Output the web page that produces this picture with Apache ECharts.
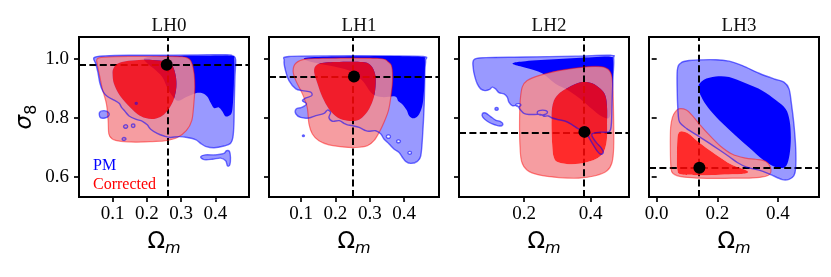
<!DOCTYPE html>
<html><head><meta charset="utf-8">
<script src="https://cdn.jsdelivr.net/npm/echarts@6/dist/echarts.min.js"></script>
<style>html,body{margin:0;padding:0;background:#fff}#c{width:831px;height:277px}</style>
</head><body><div id="c"></div>
<script>
// ---------------- data ----------------
const panelTitles = ['LH0', 'LH1', 'LH2', 'LH3'];
const truthOmegaM = [0.258, 0.254, 0.381, 0.141];
const truthSigma8 = [0.981, 0.941, 0.753, 0.631];
const xTickValues = [[0.1, 0.2, 0.3, 0.4], [0.1, 0.2, 0.3, 0.4], [0.2, 0.4], [0.0, 0.2, 0.4]];
const yTickValues = [0.6, 0.8, 1.0];
const xLimits = [[0.002, 0.498], [0.007, 0.501], [0.004, 0.515], [-0.0254, 0.536]];
const yLimits = [0.532, 1.075];
const legendNames = ['PM', 'Corrected'];

// LH0 contours (Omega_m, sigma_8)
const LH0_PM_OUTER = [[0.046,1.005],[0.080,1.011],[0.148,1.013],[0.245,1.013],[0.342,1.014],[0.430,1.015],[0.451,1.011],[0.459,0.998],[0.457,0.939],[0.455,0.848],[0.454,0.780],[0.451,0.734],[0.444,0.714],[0.425,0.705],[0.396,0.699],[0.371,0.704],[0.357,0.714],[0.342,0.727],[0.318,0.734],[0.294,0.737],[0.269,0.734],[0.250,0.739],[0.230,0.748],[0.211,0.762],[0.201,0.777],[0.187,0.789],[0.167,0.796],[0.148,0.807],[0.136,0.823],[0.126,0.836],[0.119,0.850],[0.104,0.861],[0.085,0.873],[0.072,0.890],[0.063,0.918],[0.057,0.956],[0.051,0.984]];
const LH0_PM_ISLANDS = [
  [[0.062,0.819],[0.075,0.825],[0.088,0.819],[0.089,0.808],[0.078,0.800],[0.064,0.802]],
  [[0.132,0.771],[0.135,0.776],[0.141,0.777],[0.144,0.771],[0.141,0.766],[0.135,0.766]],
  [[0.155,0.774],[0.157,0.779],[0.163,0.779],[0.165,0.774],[0.163,0.769],[0.157,0.769]],
  [[0.128,0.729],[0.130,0.733],[0.136,0.733],[0.139,0.729],[0.136,0.725],[0.130,0.725]],
  [[0.166,0.850],[0.169,0.853],[0.172,0.850],[0.169,0.847]],
  [[0.357,0.668],[0.371,0.675],[0.400,0.675],[0.425,0.680],[0.432,0.689],[0.441,0.687],[0.444,0.666],[0.442,0.641],[0.435,0.638],[0.430,0.655],[0.415,0.664],[0.391,0.660],[0.367,0.659]]
];
const LH0_PM_HOLES = [];
const LH0_PM_INNER = [[0.196,1.005],[0.274,1.010],[0.371,1.011],[0.444,1.011],[0.455,1.000],[0.454,0.916],[0.451,0.848],[0.447,0.816],[0.437,0.806],[0.428,0.807],[0.420,0.823],[0.410,0.836],[0.396,0.834],[0.386,0.852],[0.376,0.873],[0.362,0.884],[0.342,0.884],[0.315,0.871],[0.289,0.859],[0.264,0.893],[0.245,0.939],[0.221,0.967],[0.201,0.986]];
const LH0_COR_OUTER = [[0.055,1.001],[0.080,1.007],[0.148,1.009],[0.245,1.009],[0.303,1.008],[0.323,1.001],[0.332,0.984],[0.338,0.950],[0.340,0.905],[0.337,0.848],[0.331,0.791],[0.315,0.757],[0.289,0.734],[0.255,0.723],[0.216,0.720],[0.167,0.718],[0.124,0.721],[0.099,0.729],[0.089,0.746],[0.087,0.791],[0.082,0.848],[0.070,0.899],[0.062,0.944],[0.056,0.978]];
const LH0_COR_INNER = [[0.102,0.967],[0.114,0.984],[0.138,0.993],[0.177,0.997],[0.216,0.997],[0.255,0.992],[0.274,0.978],[0.284,0.944],[0.286,0.905],[0.279,0.865],[0.264,0.831],[0.245,0.808],[0.221,0.797],[0.196,0.800],[0.172,0.814],[0.143,0.846],[0.119,0.880],[0.104,0.916],[0.100,0.948]];

// LH1 contours
const LH1_PM_OUTER = [[0.051,0.995],[0.065,1.009],[0.201,1.011],[0.346,1.011],[0.455,1.009],[0.462,0.995],[0.460,0.961],[0.458,0.848],[0.453,0.734],[0.448,0.672],[0.438,0.653],[0.419,0.646],[0.404,0.653],[0.395,0.666],[0.385,0.683],[0.370,0.695],[0.356,0.712],[0.341,0.729],[0.332,0.746],[0.317,0.757],[0.298,0.755],[0.288,0.757],[0.269,0.768],[0.249,0.774],[0.235,0.777],[0.225,0.782],[0.211,0.791],[0.191,0.789],[0.181,0.802],[0.186,0.819],[0.177,0.827],[0.167,0.816],[0.143,0.808],[0.123,0.800],[0.099,0.802],[0.085,0.814],[0.086,0.831],[0.102,0.836],[0.116,0.848],[0.104,0.859],[0.114,0.868],[0.131,0.876],[0.128,0.888],[0.104,0.893],[0.085,0.899],[0.065,0.927],[0.055,0.961]];
const LH1_PM_ISLANDS = [[[0.104,0.740],[0.107,0.743],[0.110,0.740],[0.107,0.737]]];
const LH1_PM_HOLES = [
  [[0.348,0.737],[0.351,0.742],[0.357,0.742],[0.360,0.737],[0.357,0.732],[0.351,0.732]],
  [[0.378,0.721],[0.380,0.725],[0.386,0.725],[0.389,0.721],[0.386,0.717],[0.380,0.717]],
  [[0.411,0.682],[0.413,0.686],[0.419,0.686],[0.421,0.682],[0.419,0.678],[0.413,0.678]]
];
const LH1_PM_INNER = [[0.114,1.005],[0.201,1.009],[0.298,1.010],[0.395,1.010],[0.455,1.007],[0.460,0.996],[0.459,0.927],[0.455,0.859],[0.448,0.825],[0.438,0.805],[0.426,0.799],[0.414,0.808],[0.407,0.827],[0.395,0.846],[0.383,0.857],[0.373,0.873],[0.336,0.871],[0.307,0.882],[0.278,0.927],[0.240,0.961],[0.181,0.978],[0.123,0.993]];
const LH1_COR_OUTER = [[0.085,0.986],[0.114,1.000],[0.201,1.003],[0.327,1.002],[0.354,0.990],[0.364,0.973],[0.366,0.927],[0.361,0.871],[0.354,0.825],[0.341,0.785],[0.327,0.751],[0.312,0.723],[0.293,0.706],[0.259,0.700],[0.220,0.702],[0.181,0.709],[0.152,0.723],[0.133,0.746],[0.123,0.780],[0.118,0.836],[0.104,0.882],[0.085,0.927],[0.077,0.960]];
const LH1_COR_INNER = [[0.152,0.984],[0.201,0.990],[0.278,0.990],[0.303,0.978],[0.315,0.950],[0.317,0.916],[0.312,0.871],[0.298,0.831],[0.278,0.802],[0.259,0.791],[0.235,0.791],[0.206,0.802],[0.181,0.831],[0.162,0.871],[0.148,0.916],[0.138,0.961]];

// LH2 contours
const LH2_PM_OUTER = [[0.049,0.998],[0.084,1.005],[0.204,1.007],[0.354,1.010],[0.459,1.013],[0.469,1.001],[0.467,0.939],[0.464,0.848],[0.462,0.780],[0.456,0.754],[0.429,0.752],[0.404,0.746],[0.409,0.729],[0.419,0.714],[0.432,0.698],[0.438,0.683],[0.430,0.677],[0.420,0.687],[0.409,0.706],[0.399,0.725],[0.389,0.743],[0.374,0.757],[0.359,0.766],[0.344,0.777],[0.324,0.789],[0.304,0.794],[0.284,0.800],[0.272,0.807],[0.259,0.806],[0.249,0.812],[0.214,0.812],[0.199,0.816],[0.189,0.827],[0.179,0.842],[0.164,0.842],[0.154,0.854],[0.149,0.871],[0.139,0.882],[0.124,0.886],[0.114,0.899],[0.104,0.905],[0.096,0.897],[0.082,0.893],[0.069,0.899],[0.059,0.916],[0.052,0.939],[0.047,0.967]];
const LH2_PM_ISLANDS = [
  [[0.112,0.831],[0.114,0.835],[0.120,0.835],[0.122,0.831],[0.120,0.827],[0.114,0.827]],
  [[0.074,0.814],[0.084,0.817],[0.099,0.805],[0.114,0.793],[0.129,0.788],[0.136,0.779],[0.126,0.773],[0.104,0.780],[0.089,0.789],[0.076,0.802]],
  [[0.239,0.818],[0.245,0.825],[0.262,0.826],[0.270,0.820],[0.262,0.812],[0.245,0.811]]
];
const LH2_PM_HOLES = [[[0.174,0.844],[0.178,0.848],[0.187,0.848],[0.190,0.844],[0.186,0.840],[0.178,0.840]]];
const LH2_PM_INNER = [[0.169,0.988],[0.204,0.993],[0.304,1.000],[0.404,1.006],[0.459,1.008],[0.467,0.995],[0.466,0.916],[0.462,0.848],[0.456,0.802],[0.434,0.805],[0.404,0.831],[0.369,0.865],[0.334,0.893],[0.294,0.916],[0.254,0.952],[0.204,0.971],[0.169,0.982]];
const LH2_COR_OUTER = [[0.194,0.905],[0.209,0.927],[0.244,0.944],[0.304,0.961],[0.364,0.971],[0.414,0.975],[0.444,0.971],[0.459,0.956],[0.466,0.916],[0.469,0.791],[0.469,0.700],[0.464,0.649],[0.449,0.621],[0.414,0.604],[0.364,0.596],[0.304,0.598],[0.244,0.607],[0.209,0.623],[0.192,0.653],[0.187,0.712],[0.186,0.791],[0.188,0.859]];
const LH2_COR_INNER = [[0.286,0.848],[0.304,0.882],[0.344,0.910],[0.374,0.922],[0.404,0.918],[0.429,0.899],[0.444,0.876],[0.449,0.836],[0.449,0.780],[0.449,0.734],[0.444,0.700],[0.434,0.677],[0.414,0.660],[0.384,0.649],[0.344,0.643],[0.304,0.649],[0.289,0.666],[0.284,0.712],[0.282,0.791]];

// LH3 contours
const LH3_PM_OUTER = [[0.068,0.961],[0.079,0.986],[0.107,0.995],[0.195,0.998],[0.239,0.993],[0.283,0.978],[0.338,0.952],[0.387,0.933],[0.420,0.922],[0.437,0.899],[0.445,0.848],[0.453,0.780],[0.459,0.700],[0.459,0.632],[0.453,0.604],[0.437,0.592],[0.415,0.591],[0.374,0.609],[0.338,0.623],[0.297,0.633],[0.266,0.649],[0.242,0.667],[0.211,0.689],[0.176,0.713],[0.140,0.737],[0.099,0.764],[0.076,0.785],[0.071,0.814],[0.068,0.882]];
const LH3_PM_ISLANDS = [];
const LH3_PM_HOLES = [];
const LH3_PM_INNER = [[0.137,0.905],[0.156,0.930],[0.195,0.941],[0.239,0.939],[0.294,0.918],[0.349,0.893],[0.393,0.861],[0.426,0.831],[0.439,0.791],[0.443,0.734],[0.439,0.677],[0.428,0.638],[0.409,0.630],[0.382,0.638],[0.349,0.660],[0.305,0.700],[0.261,0.740],[0.217,0.782],[0.178,0.825],[0.151,0.865]];
const LH3_COR_OUTER = [[0.060,0.819],[0.073,0.831],[0.098,0.827],[0.118,0.808],[0.143,0.777],[0.170,0.746],[0.209,0.706],[0.250,0.677],[0.294,0.664],[0.327,0.660],[0.360,0.653],[0.376,0.632],[0.373,0.609],[0.349,0.600],[0.305,0.596],[0.250,0.596],[0.195,0.595],[0.140,0.596],[0.085,0.600],[0.054,0.612],[0.047,0.632],[0.045,0.700],[0.046,0.768],[0.052,0.802]];
const LH3_COR_INNER = [[0.071,0.746],[0.082,0.755],[0.107,0.746],[0.132,0.724],[0.176,0.690],[0.242,0.645],[0.297,0.622],[0.294,0.612],[0.250,0.609],[0.195,0.607],[0.129,0.606],[0.079,0.609],[0.068,0.626],[0.067,0.677],[0.068,0.723]];

const contourSets = [
  {pmOuter: LH0_PM_OUTER, pmIslands: LH0_PM_ISLANDS, pmHoles: LH0_PM_HOLES, pmInner: LH0_PM_INNER, corOuter: LH0_COR_OUTER, corInner: LH0_COR_INNER},
  {pmOuter: LH1_PM_OUTER, pmIslands: LH1_PM_ISLANDS, pmHoles: LH1_PM_HOLES, pmInner: LH1_PM_INNER, corOuter: LH1_COR_OUTER, corInner: LH1_COR_INNER},
  {pmOuter: LH2_PM_OUTER, pmIslands: LH2_PM_ISLANDS, pmHoles: LH2_PM_HOLES, pmInner: LH2_PM_INNER, corOuter: LH2_COR_OUTER, corInner: LH2_COR_INNER},
  {pmOuter: LH3_PM_OUTER, pmIslands: LH3_PM_ISLANDS, pmHoles: LH3_PM_HOLES, pmInner: LH3_PM_INNER, corOuter: LH3_COR_OUTER, corInner: LH3_COR_INNER}
];

// ---------------- layout / style ----------------
const gridLeft = [79, 269, 459, 649];
const gridTop = 37, gridW = 170, gridH = 160;
const SERIF = 'Liberation Serif';
const MATH = 'DejaVu Sans';

function smoothClosed(px) {
  const n = px.length;
  const f = v => v.toFixed(2);
  let s = 'M' + f(px[0][0]) + ' ' + f(px[0][1]);
  for (let i = 0; i < n; i++) {
    const p0 = px[(i - 1 + n) % n], p1 = px[i], p2 = px[(i + 1) % n], p3 = px[(i + 2) % n];
    const c1 = [p1[0] + (p2[0] - p0[0]) / 6, p1[1] + (p2[1] - p0[1]) / 6];
    const c2 = [p2[0] - (p3[0] - p1[0]) / 6, p2[1] - (p3[1] - p1[1]) / 6];
    s += ' C' + f(c1[0]) + ' ' + f(c1[1]) + ' ' + f(c2[0]) + ' ' + f(c2[1]) + ' ' + f(p2[0]) + ' ' + f(p2[1]);
  }
  return s + ' Z ';
}
function ringsToPath(api, rings) {
  let d = '';
  rings.forEach(r => {
    let px = r.pts.map(p => api.coord(p));
    let area = 0;
    for (let i = 0; i < px.length; i++) {
      const a = px[i], b = px[(i + 1) % px.length];
      area += a[0] * b[1] - b[0] * a[1];
    }
    if ((area > 0) === !!r.hole) px = px.slice().reverse();
    d += smoothClosed(px);
  });
  return d;
}
function layer(panel, name, rings, style, z) {
  return {
    type: 'custom', name: name, coordinateSystem: 'cartesian2d',
    xAxisIndex: panel, yAxisIndex: panel, silent: true, z: z, animation: false,
    data: [rings[0].pts[0]],
    renderItem: function (params, api) {
      if (params.dataIndex !== 0) return;
      return {type: 'path', shape: {pathData: ringsToPath(api, rings)}, style: Object.assign({}, style)};
    }
  };
}

const series = [];
panelTitles.forEach((t, i) => {
  const c = contourSets[i];
  const pmRings = [{pts: c.pmOuter}].concat(c.pmIslands.map(p => ({pts: p})));
  const pmHoles = c.pmHoles.map(p => ({pts: p, hole: true}));
  series.push(layer(i, 'PM', pmRings.concat(pmHoles), {fill: 'rgba(0,0,255,0.4)'}, 2));
  series.push(layer(i, 'PM', [{pts: c.pmInner}], {fill: '#0000ff'}, 3));
  series.push(layer(i, 'Corrected', [{pts: c.corOuter}, {pts: c.corInner, hole: true}], {fill: 'rgba(245,140,145,0.85)'}, 4));
  series.push(layer(i, 'Corrected', [{pts: c.corInner}], {fill: 'rgba(255,8,8,0.86)'}, 5));
  series.push(layer(i, 'Corrected', [{pts: c.corOuter}], {fill: 'none', stroke: 'rgba(255,0,0,0.45)', lineWidth: 1.2}, 6));
  series.push(layer(i, 'PM', pmRings.concat(pmHoles), {fill: 'none', stroke: 'rgba(0,0,255,0.55)', lineWidth: 1.4}, 7));
  series.push({
    type: 'scatter', xAxisIndex: i, yAxisIndex: i, silent: true, z: 8, animation: false,
    data: [[truthOmegaM[i], truthSigma8[i]]], symbolSize: 0,
    markLine: {
      silent: true, symbol: ['none', 'none'], animation: false, label: {show: false},
      lineStyle: {color: '#000', type: [7, 3.4], width: 2},
      data: [{xAxis: truthOmegaM[i]}, {yAxis: truthSigma8[i]}]
    }
  });
  series.push({
    type: 'scatter', xAxisIndex: i, yAxisIndex: i, silent: true, z: 9, animation: false,
    data: [[truthOmegaM[i], truthSigma8[i]]], symbolSize: 12, itemStyle: {color: '#000', opacity: 1}
  });
});

const option = {
  backgroundColor: '#fff',
  animation: false,
  title: panelTitles.map((t, i) => ({
    text: t, left: gridLeft[i] + gridW / 2, top: 12, textAlign: 'center',
    textStyle: {fontFamily: SERIF, fontSize: 19, fontWeight: 'normal', color: '#111'}
  })),
  legend: {
    data: [{name: legendNames[0], textStyle: {color: '#0000ff'}}, {name: legendNames[1], textStyle: {color: '#ff0000'}}],
    orient: 'vertical', left: 83, top: 152, itemWidth: 0, itemHeight: 0, itemGap: 1,
    icon: 'none', selectedMode: false,
    textStyle: {fontFamily: SERIF, fontSize: 16, lineHeight: 18}
  },
  grid: panelTitles.map((t, i) => ({
    left: gridLeft[i], top: gridTop, width: gridW, height: gridH,
    show: true, borderColor: '#000', borderWidth: 2, backgroundColor: 'transparent'
  })),
  xAxis: panelTitles.map((t, i) => ({
    gridIndex: i, type: 'value', min: xLimits[i][0], max: xLimits[i][1],
    splitLine: {show: false}, axisLine: {show: false},
    axisTick: {show: true, customValues: xTickValues[i], length: 5, lineStyle: {color: '#000', width: 1.7}},
    axisLabel: {customValues: xTickValues[i], formatter: v => v.toFixed(1), margin: 8,
      fontFamily: SERIF, fontSize: 19, color: '#000'},
    name: '{o|Ω}{m|m}', nameLocation: 'middle', nameGap: 30,
    nameTextStyle: {rich: {
      o: {fontFamily: MATH, fontSize: 23, lineHeight: 30, color: '#000'},
      m: {fontFamily: MATH, fontStyle: 'italic', fontSize: 16, lineHeight: 14, verticalAlign: 'bottom', color: '#000'}
    }}
  })),
  yAxis: panelTitles.map((t, i) => ({
    gridIndex: i, type: 'value', min: yLimits[0], max: yLimits[1],
    splitLine: {show: false}, axisLine: {show: false},
    axisTick: {show: true, customValues: yTickValues, length: 5, lineStyle: {color: '#000', width: 1.7}},
    axisLabel: {show: i === 0, customValues: yTickValues, formatter: v => v.toFixed(1), margin: 10,
      fontFamily: SERIF, fontSize: 19, color: '#000'},
    name: i === 0 ? '{s|σ}{e|8}' : '', nameLocation: 'middle', nameGap: 39, nameRotate: 90,
    nameTextStyle: {rich: {
      s: {fontFamily: MATH, fontStyle: 'italic', fontSize: 23, lineHeight: 30, color: '#000'},
      e: {fontFamily: MATH, fontSize: 16, lineHeight: 14, verticalAlign: 'bottom', color: '#000'}
    }}
  })),
  series: series
};

const chart = echarts.init(document.getElementById('c'), null, {renderer: 'canvas'});
chart.setOption(option);
</script>
</body></html>
